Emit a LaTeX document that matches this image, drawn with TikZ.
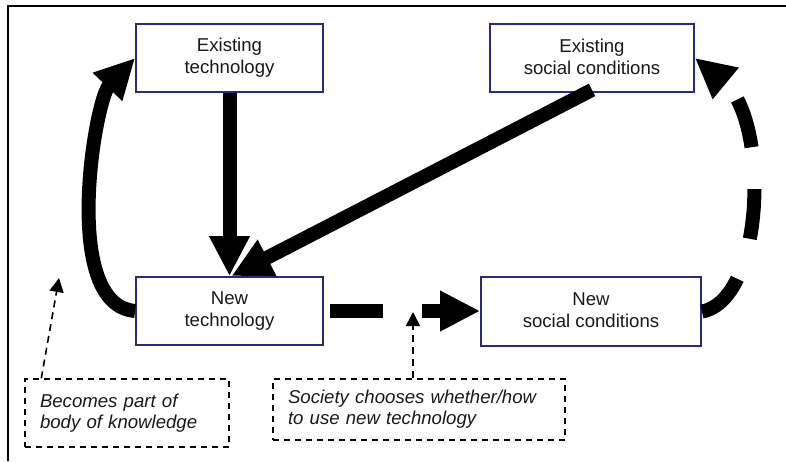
\documentclass[tikz,border=0pt]{standalone}
\usepackage{fontspec}
\setmainfont{Liberation Sans}
\usetikzlibrary{arrows.meta}
\definecolor{boxblue}{RGB}{40,42,125}
\newcommand{\upln}[1]{\raisebox{3pt}{#1}}
\begin{document}
\begin{tikzpicture}[x=1pt,y=-1pt,
  box/.style={draw=boxblue, line width=1.8pt, fill=white, align=center, inner sep=0pt,
    font=\fontsize{18.6}{22}\selectfont, text=black!90},
  notebox/.style={draw=black, line width=1.4pt, dash pattern=on 6pt off 5pt, align=left,
    inner xsep=15pt, inner ysep=0pt, font=\fontsize{18.6}{21}\selectfont\itshape, text=black!90},
  bigarrow/.style={line width=14pt, -{Triangle[width=38pt,length=40pt]}},
  smallarrow/.style={line width=1.6pt, dash pattern=on 7pt off 5pt, -{Triangle[width=14pt,length=14pt]}}
]
\useasboundingbox (0,0) rectangle (786,461);
\draw[line width=2pt] (8,461) -- (8,6) -- (786,6);

\node[box, minimum width=187pt, minimum height=68pt] (et) at (229.5,58) {\upln{Existing}\\\upln{technology}};
\node[box, minimum width=204pt, minimum height=68pt] (es) at (592,58) {\upln{Existing}\\\upln{social conditions}};
\node[box, minimum width=187pt, minimum height=68pt] (nt) at (229.5,311) {\upln{New}\\\upln{technology}};
\node[box, minimum width=220pt, minimum height=69pt] (ns) at (591,311.5) {\upln{New}\\\upln{social conditions}};

\node[notebox, minimum width=204pt, minimum height=68pt, text width=174pt] (nb1) at (127,413)
  {Becomes part of\\body of knowledge};
\node[notebox, minimum width=292pt, minimum height=61pt, text width=262pt] (nb2) at (419,409.5)
  {Society chooses whether/how\\to use new technology};

\coordinate (kn) at (59,278);
\coordinate (use) at (413,312);

\draw[bigarrow] (et.south) -- (nt.north);
\draw[bigarrow] ([yshift=3pt]es.south) -- ([xshift=2pt]nt.north);
\draw[bigarrow] (nt.west) .. controls (60,305) and (95,100) .. (et.west);
\draw[bigarrow, dash pattern=on 50pt off 42pt] (ns.east) .. controls (765,300) and (770,120) .. (es.east);
\draw[bigarrow, dash pattern=on 53pt off 39pt, shorten <=6pt] (nt.east) -- (nt.east -| ns.west);

\draw[smallarrow] ([xshift=17pt]nb1.north west) -- (kn);
\draw[smallarrow] ([xshift=-6pt]nb2.north) -- (use);
\end{tikzpicture}
\end{document}
